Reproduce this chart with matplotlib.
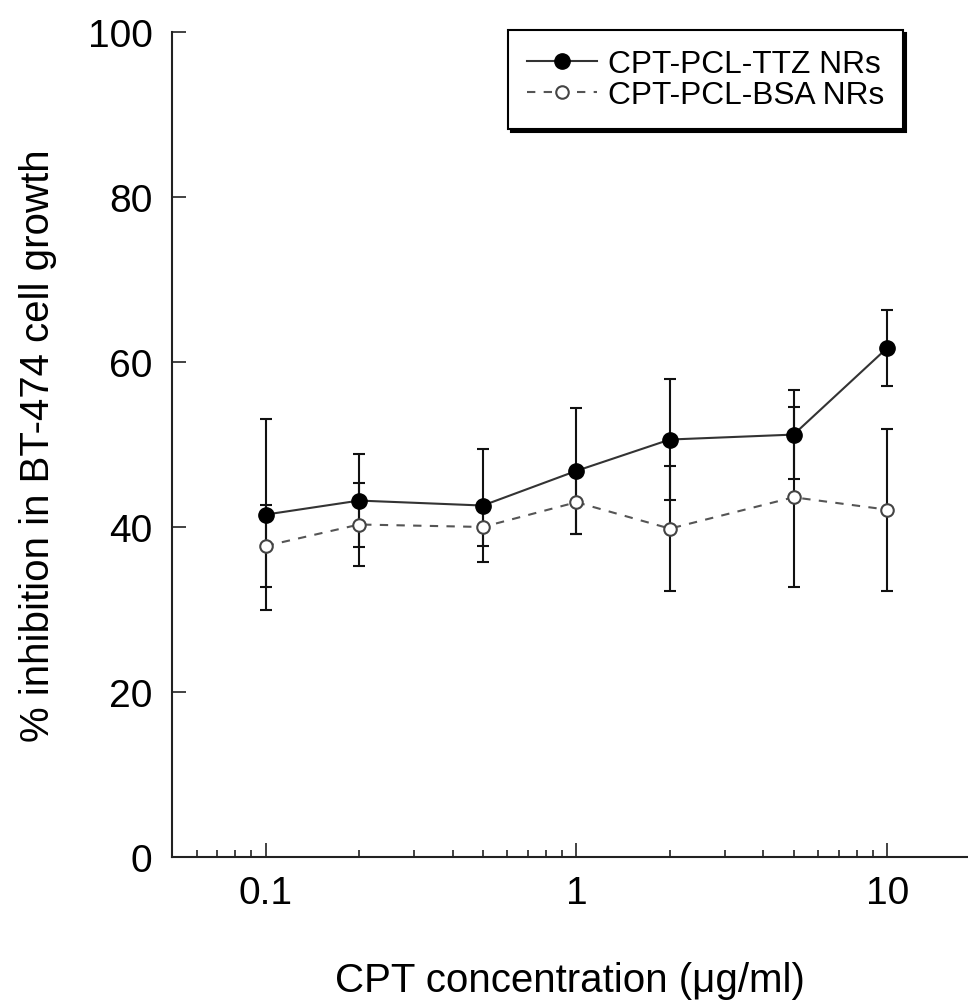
import matplotlib
matplotlib.use("Agg")
import matplotlib.pyplot as plt

plt.rcParams['font.family'] = ['Liberation Sans', 'DejaVu Sans']

# --- data ---
conc = [0.1, 0.2, 0.5, 1, 2, 5, 10]
ttz_mean = [41.5, 43.2, 42.6, 46.8, 50.6, 51.2, 61.7]
ttz_err = [11.6, 5.6, 6.8, 7.6, 7.3, 5.4, 4.6]
bsa_mean = [37.7, 40.3, 40.0, 43.0, 39.8, 43.6, 42.1]
bsa_err = [5.0, 5.0, 2.3, 3.8, 7.6, 10.9, 9.8]

fig = plt.figure(figsize=(9.68, 10.03), dpi=100)
ax = fig.add_axes([0.1777, 0.1446, 0.8223, 0.8225])

# error bars first so markers sit on top
ax.errorbar(conc, bsa_mean, yerr=bsa_err, fmt='none', ecolor='#111111',
            elinewidth=1.5, capsize=4.5, capthick=1.5, zorder=2)
ax.errorbar(conc, ttz_mean, yerr=ttz_err, fmt='none', ecolor='#111111',
            elinewidth=1.5, capsize=4.5, capthick=1.5, zorder=2)

ax.plot(conc, ttz_mean, '-', color='#333333', lw=1.5, marker='o', ms=11,
        mfc='black', mec='black', label='CPT-PCL-TTZ NRs', zorder=4)
ax.plot(conc, bsa_mean, '--', color='#555555', lw=1.5, dashes=(4, 4),
        marker='o', ms=9, mfc='white', mec='#444444', mew=1.5,
        label='CPT-PCL-BSA NRs', zorder=3)

ax.set_xscale('log')
ax.set_xlim(0.05, 18.2)
ax.set_ylim(0, 100)
ax.set_yticks([0, 20, 40, 60, 80, 100])
ax.set_xticks([0.1, 1, 10])
ax.set_xticklabels(['0.1', '1', '10'])

for s in ['top', 'right']:
    ax.spines[s].set_visible(False)
for s in ['left', 'bottom']:
    ax.spines[s].set_linewidth(1.5)
    ax.spines[s].set_color('#222222')

ax.tick_params(axis='both', which='major', direction='in', length=10,
               width=1.2, color='#222222', labelsize=28)
ax.tick_params(axis='y', pad=14)
ax.tick_params(axis='x', pad=13)
ax.tick_params(axis='x', which='minor', direction='in', length=5,
               width=1.2, color='#222222')

ax.set_xlabel('CPT concentration (μg/ml)', fontsize=29, labelpad=36)
ax.set_ylabel('% inhibition in BT-474 cell growth', fontsize=29, labelpad=22)

# boxed legend with a hard black shadow, top right
leg = ax.legend(loc='upper right', bbox_to_anchor=(0.933, 0.969),
                bbox_transform=fig.transFigure, borderaxespad=0,
                fontsize=22.8, frameon=True, fancybox=False,
                shadow={'color': 'black', 'alpha': 1},
                handlelength=2.2, handletextpad=0.35, labelspacing=0.02,
                borderpad=0.6, numpoints=1)
leg.get_frame().set_edgecolor('black')
leg.get_frame().set_linewidth(1.5)

fig.savefig('out.png', dpi=100)
